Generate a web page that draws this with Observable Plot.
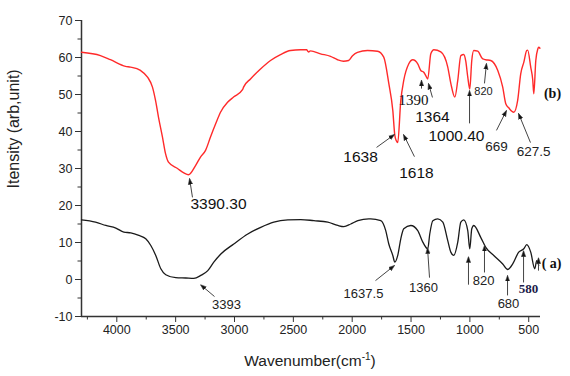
<!DOCTYPE html>
<html><head><meta charset="utf-8">
<script src="https://cdn.jsdelivr.net/npm/d3@7"></script>
<script src="https://cdn.jsdelivr.net/npm/@observablehq/plot@0.6"></script>
<style>body{margin:0;background:#fff}</style>
</head><body><div id="chart"></div>
<script>
// Curve (b), red
const wnB = [4300,4139,4054,3926,3884,3799,3739,3697,3671,3646,3612,3586,3561,3484,3430,3391,3331,3289,3246,3204,3161,3119,3059,3008,2932,2923,2864,2779,2694,2609,2524,2439,2388,2371,2354,2269,2184,2125,2074,2031,1997,1955,1870,1785,1732,1689,1655,1638,1625,1613,1587,1562,1519,1485,1443,1417,1392,1375,1358,1332,1306,1247,1188,1162,1128,1103,1077,1052,1035,1018,1001,984,967,933,891,865,823,763,721,695,670,627,594,568,542,517,509,483,466,457,440,423,415,405];
const valB = [61.4,60.5,59.4,57.6,57.4,56.5,54.7,52,48.4,43.9,38.5,34,31.7,30,28.8,28.3,30.8,33.1,34.9,38.5,42,45.2,47.9,49.3,51.3,52,54.2,56.9,59.2,60.8,61.9,62.1,62.1,61.5,61.8,61,60.3,59.4,59,59.2,60.5,61.4,61.9,61.7,60.1,53,45.7,39,37.5,37,48.4,53.8,58.3,59.4,58.3,56.5,56,55.1,54.2,61,62.1,61.5,57.4,53,49.3,53.8,60.5,60.8,59,54.7,51.5,59.2,61.9,61.7,59.6,59.4,59.2,56.5,52,47.5,46.4,45.2,48.4,55.6,58.7,61.9,62,57.4,54,50.2,59.2,62.3,62.8,62.5];
// Curve (a), black
const wnA = [4300,4181,4093,4008,3940,3881,3813,3754,3711,3669,3626,3584,3499,3414,3346,3286,3227,3176,3116,3006,2887,2777,2666,2547,2437,2326,2207,2122,2071,2012,1952,1859,1843,1757,1715,1689,1655,1638,1613,1587,1562,1502,1443,1400,1358,1341,1315,1273,1230,1188,1162,1137,1103,1077,1052,1018,1001,984,967,908,865,797,721,678,636,585,542,517,483,449,432,415];
const valA = [16.1,15.5,14.6,13.9,12.8,12.6,11.9,11,9.2,6.5,2.9,1.3,0.5,0.4,0.3,1.1,2.4,4.7,6.9,9.6,12.3,14.1,15.5,16.1,16.2,15.9,15.5,14.6,14.3,15,15.9,16.4,16.4,15.9,13.2,9.6,6.5,4.7,6.5,11,13.7,14.6,13.2,10.1,8.3,12.3,15.9,16.4,15.5,10.5,7.4,6.5,10.1,15.5,16.1,13.2,8.3,13.7,14.6,11.4,8.7,6.5,4.2,2.7,4.2,7.4,8.3,9.4,7.4,2.9,5.1,3.8];

const xMajor = [4000,3500,3000,2500,2000,1500,1000,500];
const xMinor = [4250,3750,3250,2750,2250,1750,1250,750];
const yMajor = [-10,0,10,20,30,40,50,60,70];
const yMinor = [-5,5,15,25,35,45,55,65];

// Peak labels: text, wavenumber, intensity (label centre)
const bigLabels = [
  {t:"3390.30", x:3136, y:20.5},
  {t:"1638", x:1929, y:33.0},
  {t:"1618", x:1454, y:28.9},
  {t:"1364", x:1318, y:43.8},
  {t:"1000.40", x:1114, y:38.9}
];
const serifLabels = [{t:"1390", x:1479, y:48.4}];
const midLabelsB = [{t:"669", x:774, y:35.9},{t:"627.5", x:459, y:34.6}];
const smallLabelsB = [{t:"820", x:884, y:50.8}];
const labelsA = [
  {t:"3393", x:3068, y:-6.8},
  {t:"1637.5", x:1904, y:-3.8},
  {t:"1360", x:1394, y:-2.2},
  {t:"820", x:884, y:-0.3},
  {t:"680", x:672, y:-6.5}
];
const boldLabels = [{t:"(b)", x:298, y:50.3},{t:"( a)", x:306, y:4.3}];
const label580 = [{t:"580", x:502, y:-2.4}];

// Arrows: tail (x1,y1) -> head (x2,y2)
const arrows = [
  {x1:3357,y1:22.2,x2:3382,y2:27.3},
  {x1:1793,y1:35.7,x2:1640,y2:39.2},
  {x1:1471,y1:33.2,x2:1564,y2:39.2},
  {x1:1411,y1:51.6,x2:1411,y2:53.9},
  {x1:1318,y1:49.2,x2:1352,y2:53.0},
  {x1:1003,y1:42.2,x2:1003,y2:51.1},
  {x1:876,y1:53.0,x2:859,y2:58.4},
  {x1:774,y1:40.3,x2:689,y2:45.7},
  {x1:485,y1:37.0,x2:587,y2:44.9},
  {x1:3170,y1:-4.6,x2:3289,y2:-1.4},
  {x1:1802,y1:-0.3,x2:1640,y2:3.8},
  {x1:1343,y1:0.5,x2:1360,y2:8.6},
  {x1:1012,y1:-1.4,x2:1012,y2:6.2},
  {x1:876,y1:1.9,x2:876,y2:9.2},
  {x1:680,y1:-4.3,x2:680,y2:1.1},
  {x1:544,y1:-0.8,x2:544,y2:7.8},
  {x1:417,y1:2.4,x2:417,y2:5.9}
];

function filledArrow(color, context) {
  const m = d3.create("svg:marker")
    .attr("viewBox", "-10 -5 10 10")
    .attr("markerWidth", 6)
    .attr("markerHeight", 6)
    .attr("orient", "auto")
    .attr("fill", "#111");
  m.append("path").attr("d", "M-10,-3.6L0,0L-10,3.6Z");
  return m.node();
}

const sans = "'Liberation Sans', Arial, sans-serif";
const serif = "'Liberation Serif', 'Times New Roman', serif";

const plot = Plot.plot({
  width: 570,
  height: 376,
  marginLeft: 81,
  marginRight: 30,
  marginTop: 20,
  marginBottom: 60,
  style: {fontFamily: sans, background: "#fff", color: "#222"},
  x: {domain: [4300, 400], range: [81, 540]},
  y: {domain: [-10, 70]},
  marks: [
    Plot.axisX(xMajor, {tickSize: 6, tickPadding: 3, fontSize: 12.5, tickFormat: d => String(d), label: null, stroke: "#333"}),
    Plot.axisX(xMinor, {tickSize: 3.5, tickFormat: () => "", label: null, stroke: "#333"}),
    Plot.axisY(yMajor, {tickSize: 6, tickPadding: 3, fontSize: 12.5, tickFormat: d => String(d), label: null, stroke: "#333"}),
    Plot.axisY(yMinor, {tickSize: 3.5, tickFormat: () => "", label: null, stroke: "#333"}),
    Plot.ruleX([4300], {stroke: "#333", strokeWidth: 1.5}),
    Plot.ruleY([-10], {stroke: "#333", strokeWidth: 1.5}),
    Plot.line(valA, {x: wnA, y: valA, stroke: "#1a1a1a", strokeWidth: 1.3, curve: "monotone-x"}),
    Plot.line(valB, {x: wnB, y: valB, stroke: "#ff2a2a", strokeWidth: 1.4, curve: "monotone-x"}),
    Plot.link(arrows, {x1: "x1", y1: "y1", x2: "x2", y2: "y2", stroke: "#444", strokeWidth: 1, markerEnd: filledArrow}),
    Plot.text(bigLabels, {x: "x", y: "y", text: "t", fontSize: 15.5, fill: "#111"}),
    Plot.text(serifLabels, {x: "x", y: "y", text: "t", fontSize: 15, fontFamily: serif, fill: "#111"}),
    Plot.text(midLabelsB, {x: "x", y: "y", text: "t", fontSize: 13.5, fill: "#222"}),
    Plot.text(smallLabelsB, {x: "x", y: "y", text: "t", fontSize: 11, fill: "#222"}),
    Plot.text(labelsA, {x: "x", y: "y", text: "t", fontSize: 13, fill: "#222"}),
    Plot.text(boldLabels, {x: "x", y: "y", text: "t", fontSize: 14, fontWeight: "bold", fontFamily: serif, fill: "#111"}),
    Plot.text(label580, {x: "x", y: "y", text: "t", fontSize: 13, fontWeight: "bold", fontFamily: serif, fill: "#1c1c4a"}),
    Plot.text(["Itensity (arb,unit)"], {frameAnchor: "left", dx: -68, dy: 20, rotate: -90, fontSize: 16, fill: "#222"})
  ]
});

const svg = d3.select(plot);
const t = svg.append("text")
  .attr("x", 310).attr("y", 366)
  .attr("text-anchor", "middle")
  .attr("font-size", 15.5)
  .attr("font-family", sans)
  .attr("fill", "#222");
t.append("tspan").text("Wavenumber(cm");
t.append("tspan").attr("dy", -6).attr("font-size", 10).text("-1");
t.append("tspan").attr("dy", 6).text(")");

document.getElementById("chart").appendChild(plot);
</script>
</body></html>
